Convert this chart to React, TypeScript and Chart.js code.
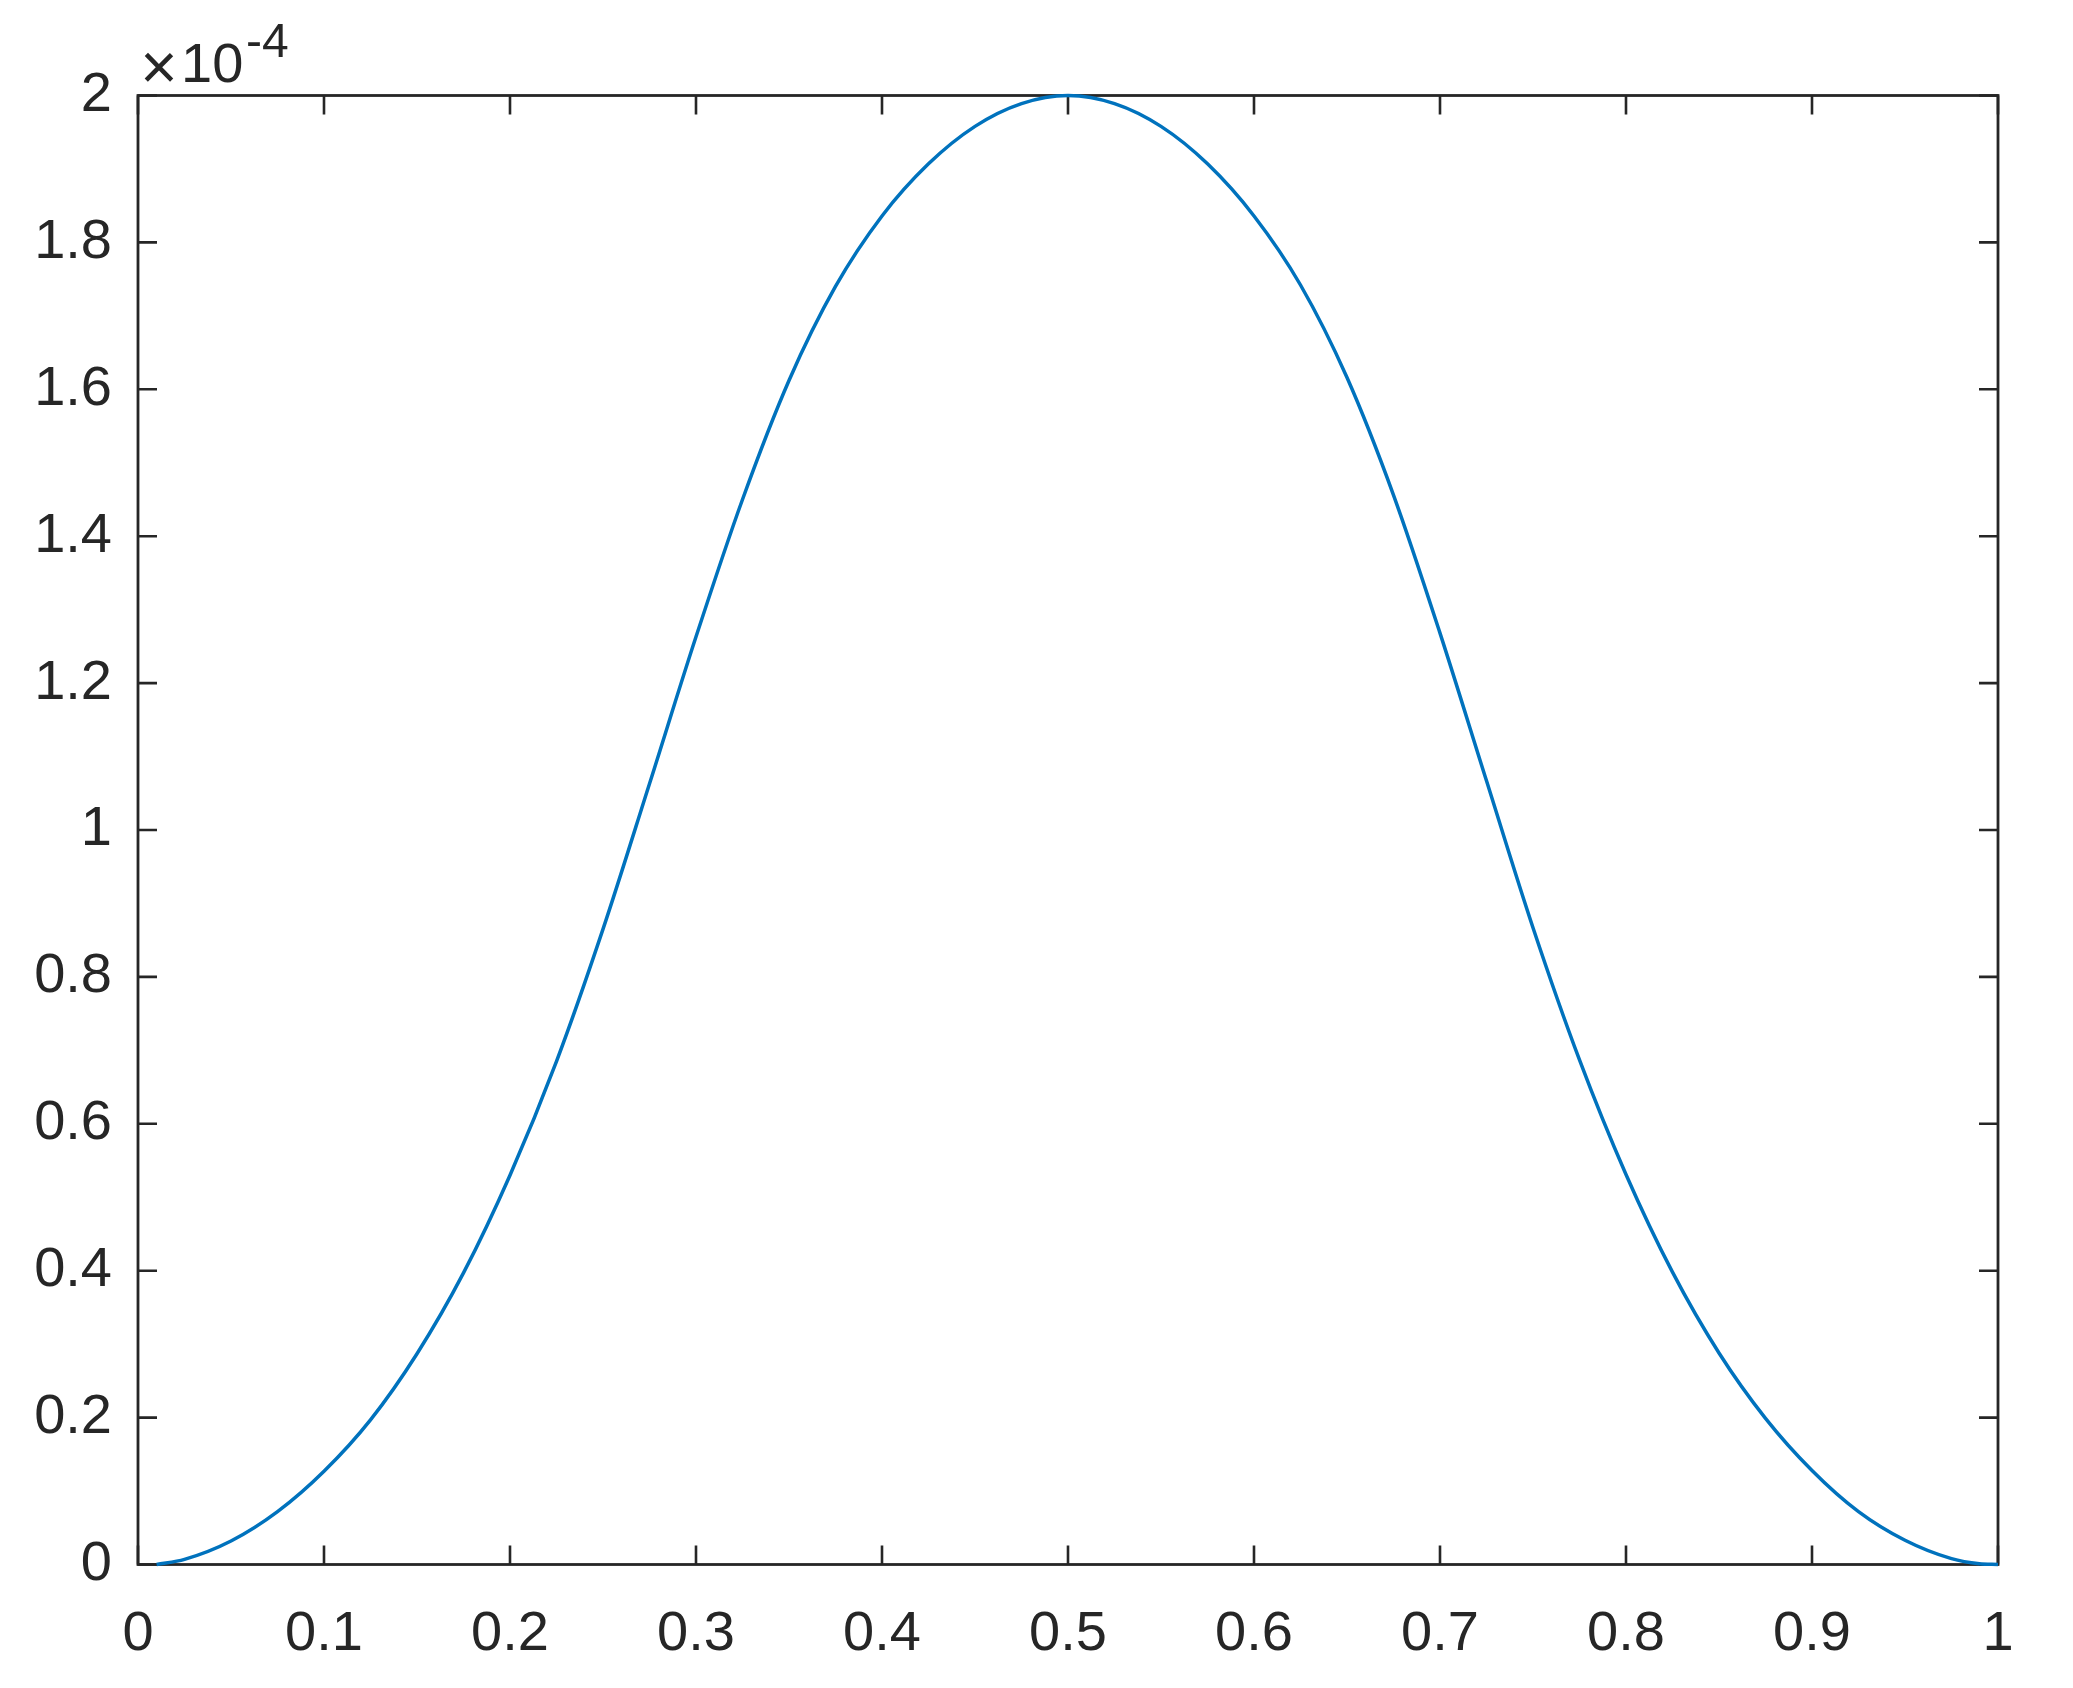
import { useEffect, useRef } from "react";
import { Chart, registerables } from "chart.js";

Chart.register(...registerables);

// x positions
const xValues = [
  0.01, 0.025, 0.05, 0.075, 0.1, 0.125, 0.15, 0.175, 0.2, 0.225, 0.25, 0.275, 0.3, 0.325, 0.35, 0.375, 0.4, 0.425, 0.45,
  0.475, 0.5, 0.525, 0.55, 0.575, 0.6, 0.625, 0.65, 0.675, 0.7, 0.725, 0.75, 0.775, 0.8, 0.825, 0.85, 0.875, 0.9, 0.925,
  0.95, 0.975, 0.99, 1.0,
];
// y values in units of 1e-4
const yValues = [
  0.0, 0.007, 0.032, 0.072, 0.127, 0.197, 0.287, 0.397, 0.53, 0.685, 0.865, 1.063, 1.263, 1.45, 1.612, 1.74, 1.836,
  1.907, 1.958, 1.989, 2.0, 1.989, 1.958, 1.907, 1.836, 1.742, 1.616, 1.456, 1.268, 1.067, 0.867, 0.687, 0.531, 0.398,
  0.288, 0.199, 0.128, 0.072, 0.033, 0.008, 0.001, 0.0,
];
const xTickValues = [0, 0.1, 0.2, 0.3, 0.4, 0.5, 0.6, 0.7, 0.8, 0.9, 1];
const xTickLabels = ["0", "0.1", "0.2", "0.3", "0.4", "0.5", "0.6", "0.7", "0.8", "0.9", "1"];
const yTickValues = [0, 0.2, 0.4, 0.6, 0.8, 1, 1.2, 1.4, 1.6, 1.8, 2];
const yTickLabels = ["0", "0.2", "0.4", "0.6", "0.8", "1", "1.2", "1.4", "1.6", "1.8", "2"];
const exponentTimes = "\u00d7";
const exponentBase = "10";
const exponentPower = "-4";

const W = 2073;
const H = 1688;
const AXIS = "#262626";
const FONT = "'Liberation Sans', Arial, Helvetica, sans-serif";

function labelFor(values: number[], labels: string[], v: number) {
  const i = values.findIndex((t) => Math.abs(t - v) < 1e-9);
  return i >= 0 ? labels[i] : "";
}

const boxPlugin = {
  id: "matlabBox",
  beforeDatasetsDraw(chart: any) {
    const { ctx, chartArea } = chart;
    const { left, right, top, bottom } = chartArea;
    const xs = chart.scales.x;
    const ys = chart.scales.y;
    const tl = 19;
    ctx.save();
    ctx.strokeStyle = AXIS;
    ctx.lineWidth = 2.6;
    ctx.lineCap = "butt";
    ctx.beginPath();
    xTickValues.forEach((v) => {
      const px = xs.getPixelForValue(v);
      ctx.moveTo(px, bottom);
      ctx.lineTo(px, bottom - tl);
      ctx.moveTo(px, top);
      ctx.lineTo(px, top + tl);
    });
    yTickValues.forEach((v) => {
      const py = ys.getPixelForValue(v);
      ctx.moveTo(left, py);
      ctx.lineTo(left + tl, py);
      ctx.moveTo(right, py);
      ctx.lineTo(right - tl, py);
    });
    ctx.stroke();
    ctx.lineWidth = 2.8;
    ctx.strokeRect(left, top, right - left, bottom - top);
    ctx.restore();
  },
  afterDraw(chart: any) {
    const { ctx } = chart;
    ctx.save();
    ctx.fillStyle = AXIS;
    ctx.textBaseline = "alphabetic";
    ctx.textAlign = "center";
    ctx.font = `64px ${FONT}`;
    ctx.fillText(exponentTimes, 159, 89);
    ctx.textAlign = "left";
    ctx.font = `56px ${FONT}`;
    ctx.fillText(exponentBase, 181, 82);
    ctx.font = `48px ${FONT}`;
    ctx.fillText(exponentPower, 246, 57);
    ctx.restore();
  },
};

export default function App() {
  const ref = useRef<HTMLCanvasElement | null>(null);
  useEffect(() => {
    document.body.style.margin = "0";
    const canvas = ref.current;
    if (!canvas) return;
    const data = xValues.map((x, i) => ({ x, y: yValues[i] }));
    const chart = new Chart(canvas, {
      type: "line",
      data: {
        datasets: [
          {
            data,
            borderColor: "#0072BD",
            borderWidth: 3.5,
            pointRadius: 0,
            fill: false,
            cubicInterpolationMode: "monotone",
            clip: false as any,
          },
        ],
      },
      options: {
        animation: false,
        responsive: false,
        devicePixelRatio: 1,
        layout: { padding: { top: 95.5, right: 75, left: 0, bottom: 0 } },
        plugins: { legend: { display: false }, tooltip: { enabled: false } },
        scales: {
          x: {
            type: "linear",
            min: 0,
            max: 1,
            grid: { display: false, drawTicks: false },
            border: { display: false },
            afterBuildTicks: (s: any) => {
              s.ticks = xTickValues.map((v) => ({ value: v }));
            },
            afterFit: (s: any) => {
              s.height = H - 1564.5;
            },
            ticks: {
              padding: 36,
              color: AXIS,
              font: { family: FONT, size: 56 },
              maxRotation: 0,
              autoSkip: false,
              callback: (v: any) => labelFor(xTickValues, xTickLabels, Number(v)),
            },
          },
          y: {
            type: "linear",
            min: 0,
            max: 2,
            grid: { display: false, drawTicks: false },
            border: { display: false },
            afterBuildTicks: (s: any) => {
              s.ticks = yTickValues.map((v) => ({ value: v }));
            },
            afterFit: (s: any) => {
              s.width = 138;
            },
            ticks: {
              padding: 26,
              color: AXIS,
              font: { family: FONT, size: 56 },
              autoSkip: false,
              callback: (v: any) => labelFor(yTickValues, yTickLabels, Number(v)),
            },
          },
        },
      },
      plugins: [boxPlugin],
    });
    return () => chart.destroy();
  }, []);
  return (
    <div style={{ width: W, height: H, background: "#fff" }}>
      <canvas ref={ref} width={W} height={H} style={{ width: W, height: H, display: "block" }} />
    </div>
  );
}
